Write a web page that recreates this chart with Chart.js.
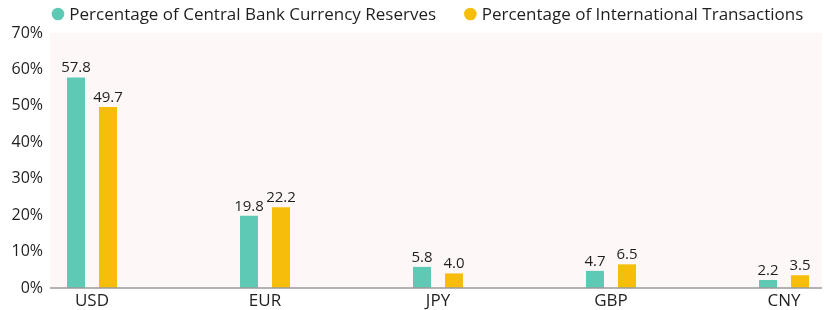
<!DOCTYPE html>
<html>
<head>
<meta charset="utf-8">
<script src="https://cdn.jsdelivr.net/npm/chart.js@4.4.1/dist/chart.umd.min.js"></script>
<style>
  html, body { margin: 0; padding: 0; background: #ffffff; }
  #wrap { width: 835px; height: 310px; position: relative; }
</style>
</head>
<body>
<div id="wrap"><canvas id="c" width="835" height="310"></canvas></div>
<script>
const categories = ["USD", "EUR", "JPY", "GBP", "CNY"];
const reserves = [57.8, 19.8, 5.8, 4.7, 2.2];
const transactions = [49.7, 22.2, 4.0, 6.5, 3.5];
const seriesNames = ["Percentage of Central Bank Currency Reserves", "Percentage of International Transactions"];
const yTicks = [0, 10, 20, 30, 40, 50, 60, 70];

const FONT = "'Open Sans'";
const TEAL = "#5ec9b5";
const GOLD = "#f6be0a";
const TEXT = "#1f1f1f";

const bgPlugin = {
  id: "bgPlugin",
  beforeDraw(chart) {
    const {ctx, chartArea} = chart;
    const l = chartArea.left - 42, r = chartArea.right + 38;
    ctx.save();
    ctx.fillStyle = "#fdf8f7";
    ctx.fillRect(l, chartArea.top, r - l, chartArea.bottom - chartArea.top);
    ctx.restore();
  },
  afterDatasetsDraw(chart) {
    const {ctx, chartArea} = chart;
    const l = chartArea.left - 42, r = chartArea.right + 38;
    ctx.save();
    ctx.strokeStyle = "#9a9a9a";
    ctx.lineWidth = 1.5;
    ctx.beginPath();
    ctx.moveTo(l, chartArea.bottom);
    ctx.lineTo(r, chartArea.bottom);
    ctx.stroke();
    ctx.fillStyle = TEXT;
    ctx.font = "15px " + FONT;
    ctx.textAlign = "center";
    ctx.textBaseline = "alphabetic";
    chart.data.datasets.forEach((ds, i) => {
      const meta = chart.getDatasetMeta(i);
      meta.data.forEach((el, j) => {
        ctx.fillText(ds.data[j].toFixed(1), el.x, el.y - 5);
      });
    });
    ctx.restore();
  },
  afterDraw(chart) {
    const {ctx} = chart;
    ctx.save();
    ctx.font = "17px " + FONT;
    ctx.textBaseline = "middle";
    ctx.textAlign = "left";
    const r = 6.3, gapText = 5, itemGap = 28;
    const items = chart.data.datasets.map(ds => ({text: ds.label, color: ds.backgroundColor, w: ctx.measureText(ds.label).width}));
    let total = 0;
    items.forEach((it, i) => { total += 2 * r + gapText + it.w + (i < items.length - 1 ? itemGap : 0); });
    let x = chart.width / 2 + 10 - total / 2;
    const y = 14;
    items.forEach(it => {
      ctx.fillStyle = it.color;
      ctx.beginPath();
      ctx.arc(x + r, y, r, 0, Math.PI * 2);
      ctx.fill();
      x += 2 * r + gapText;
      ctx.fillStyle = TEXT;
      ctx.fillText(it.text, x, y + 1);
      x += it.w + itemGap;
    });
    ctx.restore();
  }
};

new Chart(document.getElementById("c"), {
  type: "bar",
  data: {
    labels: categories,
    datasets: [
      {label: seriesNames[0], data: reserves, backgroundColor: TEAL, clip: false},
      {label: seriesNames[1], data: transactions, backgroundColor: GOLD, clip: false}
    ]
  },
  options: {
    responsive: false,
    animation: false,
    devicePixelRatio: 1,
    categoryPercentage: 0.37,
    barPercentage: 0.5625,
    layout: {padding: {top: 33, left: 0, right: 51, bottom: 0}},
    plugins: {legend: {display: false}, tooltip: {enabled: false}},
    scales: {
      x: {
        offset: false,
        grid: {display: false, drawTicks: false},
        border: {display: false},
        ticks: {color: TEXT, font: {family: FONT, size: 17}, padding: 3, maxRotation: 0, autoSkip: false},
        afterFit(scale) { scale.height = 22; }
      },
      y: {
        min: 0, max: 70,
        grid: {display: false, drawTicks: true, tickLength: 49},
        border: {display: false},
        afterBuildTicks(scale) { scale.ticks = yTicks.map(v => ({value: v})); },
        ticks: {color: TEXT, font: {family: FONT, size: 16}, padding: 0, callback: v => v + "%"},
        afterFit(scale) { scale.width = 92; }
      }
    }
  },
  plugins: [bgPlugin]
});
</script>
</body>
</html>
